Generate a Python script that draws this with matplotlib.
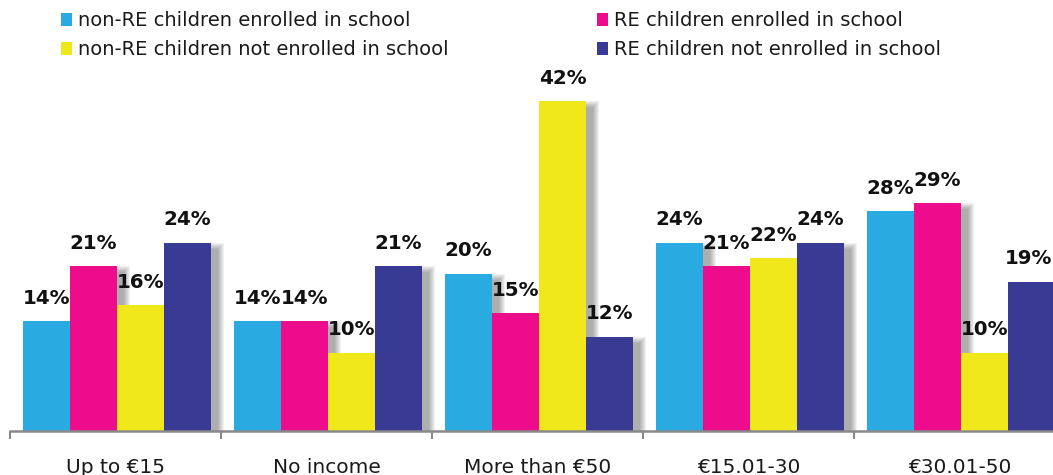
import matplotlib
matplotlib.use("Agg")
import matplotlib.pyplot as plt
from matplotlib.patches import Rectangle
from matplotlib.transforms import blended_transform_factory

# ---- data -----------------------------------------------------------------
categories = ["Up to €15", "No income", "More than €50", "€15.01-30", "€30.01-50"]
series_names = [
    "non-RE children enrolled in school",
    "RE children enrolled in school",
    "non-RE children not enrolled in school",
    "RE children not enrolled in school",
]
nonre_enrolled = [14, 14, 20, 24, 28]
re_enrolled = [21, 14, 15, 21, 29]
nonre_not_enrolled = [16, 10, 42, 22, 10]
re_not_enrolled = [24, 21, 12, 24, 19]
series_values = [nonre_enrolled, re_enrolled, nonre_not_enrolled, re_not_enrolled]
colors = ["#29ABE2", "#EC0C8C", "#F0E81A", "#383A93"]

# ---- figure geometry (pixels) ---------------------------------------------
W, H = 1053, 475
DPI = 100
fig = plt.figure(figsize=(W / DPI, H / DPI), dpi=DPI)

ax_left_px, ax_bottom_px = 10, 44
ax_w_px, ax_h_px = 1043, 391
group_px = 211.0
px_per_unit = 7.85

ax = fig.add_axes([ax_left_px / W, ax_bottom_px / H, ax_w_px / W, ax_h_px / H])
x_max = ax_w_px / group_px
ax.set_xlim(0, x_max)
ax.set_ylim(0, ax_h_px / px_per_unit)

dx_unit = 1.0 / group_px        # data units per pixel (x)
dy_unit = 1.0 / px_per_unit     # data units per pixel (y)

bar_w = 47 * dx_unit
bar_off = 13 * dx_unit

# ---- soft drop shadows behind the bars ------------------------------------
shadow_dx, shadow_dy = 7, 6
layers = 7
for si, vals in enumerate(series_values):
    for g, v in enumerate(vals):
        x0 = g + bar_off + si * bar_w
        for k in range(layers):
            e = k * 1.0
            ax.add_patch(Rectangle(
                (x0 + (shadow_dx - e) * dx_unit, 0),
                bar_w + 2 * e * dx_unit,
                v - (shadow_dy - e) * dy_unit,
                facecolor="#3a3a3a", edgecolor="none", alpha=0.07,
                zorder=1, clip_on=False))

# ---- bars and value labels ------------------------------------------------
for si, vals in enumerate(series_values):
    xs = [g + bar_off + (si + 0.5) * bar_w for g in range(len(categories))]
    ax.bar(xs, vals, width=bar_w, color=colors[si], edgecolor="none",
           zorder=3, label=series_names[si])
    for x, v in zip(xs, vals):
        if x + bar_w / 2 >= x_max - 2 * dx_unit:
            # keep the label of the bar at the right edge inside the canvas
            lx, ha = x_max - 1 * dx_unit, "right"
        else:
            lx, ha = x, "center"
        ax.text(lx, v + 17.5 * dy_unit, f"{v}%", ha=ha, va="baseline",
                fontsize=14.3, fontweight="bold", color="#111111",
                family="DejaVu Sans", zorder=5)

# ---- axes styling ---------------------------------------------------------
for side in ("left", "right", "top"):
    ax.spines[side].set_visible(False)
ax.spines["bottom"].set_color("#8a8a8a")
ax.spines["bottom"].set_linewidth(1.8)
ax.spines["bottom"].set_zorder(4)
ax.set_yticks([])
ax.set_xticks(range(len(categories)))
ax.set_xticklabels([])
ax.tick_params(axis="x", direction="out", length=6, width=1.5, color="#8a8a8a")

trans = blended_transform_factory(ax.transData, ax.transAxes)
for g, name in enumerate(categories):
    ax.text(g + 0.5, -42 / ax_h_px, name, transform=trans, ha="center",
            va="baseline", fontsize=14.5, color="#1a1a1a", family="DejaVu Sans")

# ---- legend ---------------------------------------------------------------
legend_slots = [
    (61, 78, 26),    # non-RE enrolled
    (597, 614, 26),  # RE enrolled
    (61, 78, 55),    # non-RE not enrolled
    (597, 614, 55),  # RE not enrolled
]
for (sq_x, tx, base), name, col in zip(legend_slots, series_names, colors):
    fig.add_artist(Rectangle((sq_x / W, (H - base) / H), 11 / W, 13 / H,
                             transform=fig.transFigure, facecolor=col,
                             edgecolor="none"))
    fig.text(tx / W, (H - base) / H, name, ha="left", va="baseline",
             fontsize=14, color="#1a1a1a", family="DejaVu Sans")

fig.savefig("out.png", dpi=DPI)
